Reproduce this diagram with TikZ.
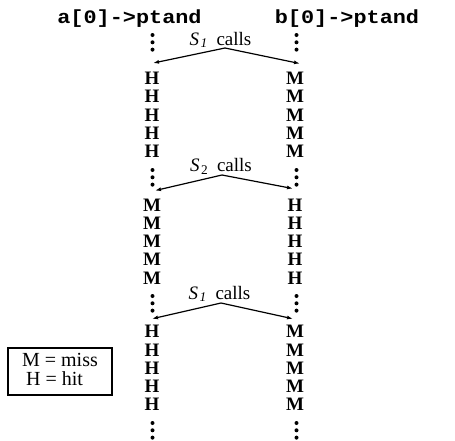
\documentclass[tikz,border=0pt]{standalone}
\usepackage{fontspec}
\setmainfont{Liberation Serif}
\setmonofont{Liberation Mono}
\usetikzlibrary{arrows.meta}

\tikzset{
  letter/.style={inner sep=0pt, font=\fontsize{19}{19}\selectfont\bfseries},
  header/.style={anchor=base, inner sep=0pt, font=\fontsize{19}{19}\selectfont\ttfamily\bfseries},
  calllabel/.style={anchor=base, inner sep=0pt, font=\fontsize{19}{19}\selectfont},
  callarrow/.style={line width=1.2pt, -{Latex[length=6pt,width=4pt]}},
  legendbox/.style={draw, line width=1.4pt, minimum width=104pt, minimum height=47pt,
    inner sep=0pt, font=\fontsize{20}{17}\selectfont},
  dotmark/.style={fill=black}
}

% "S_n calls" label text
\newcommand\callstext[1]{\textit{S}\hspace{1.5pt}\textsubscript{#1}\hspace{4pt} calls}

\begin{document}
\begin{tikzpicture}[x=1pt, y=-1pt]
\useasboundingbox (0,0) rectangle (455,440);

% column headings
\node[header] (PA) at (129.5,23) {\scalebox{1.15}[1]{a[0]->ptand}};
\node[header] (PB) at (347,23) {\scalebox{1.15}[1]{b[0]->ptand}};

% hit / miss columns, three runs of five
\foreach \s/\top/\lft/\rgt in {1/78.5/H/M, 2/205/M/H, 3/331.7/H/M} {
  \foreach \k in {0,...,4} {
    \node[letter] (L\s-\k) at (152, \top+\k*18.2) {\lft};
    \node[letter] (R\s-\k) at (295, \top+\k*18.2) {\rgt};
  }
}

% vertical ellipses between the runs
\foreach \x in {152.5, 296.5} {
  \foreach \y in {35, 170, 296, 423} {
    \foreach \d in {0,1,2} {
      \fill[dotmark] (\x, \y+\d*7.3) circle (2pt);
    }
  }
}

% call points
\coordinate (A1) at (225,48);
\coordinate (A2) at (222,175);
\coordinate (A3) at (221,303);

\node[calllabel] (C1) at (220.5,45) {\callstext{\textit{1}}};
\node[calllabel] (C2) at (221,171.5) {\callstext{2}};
\node[calllabel] (C3) at (219.5,299) {\callstext{\textit{1}}};

\draw[callarrow] (A1) -- ([shift={(1pt,9pt)}]L1-0.north);
\draw[callarrow] (A1) -- ([shift={(5pt,8.5pt)}]R1-0.north);
\draw[callarrow] (A2) -- ([shift={(3pt,8pt)}]L2-0.north);
\draw[callarrow] (A2) -- ([shift={(-2pt,10pt)}]R2-0.north);
\draw[callarrow] (A3) -- ([shift={(0pt,6.5pt)}]L3-0.north);
\draw[callarrow] (A3) -- ([shift={(-2pt,6.5pt)}]R3-0.north);

% key
\node[legendbox] (key) at (60,371.5)
  {\raisebox{-2pt}{\begin{tabular}{@{}l@{}}M = miss\\\hspace{4pt}H = hit\end{tabular}}\hspace{7pt}};
\end{tikzpicture}
\end{document}
